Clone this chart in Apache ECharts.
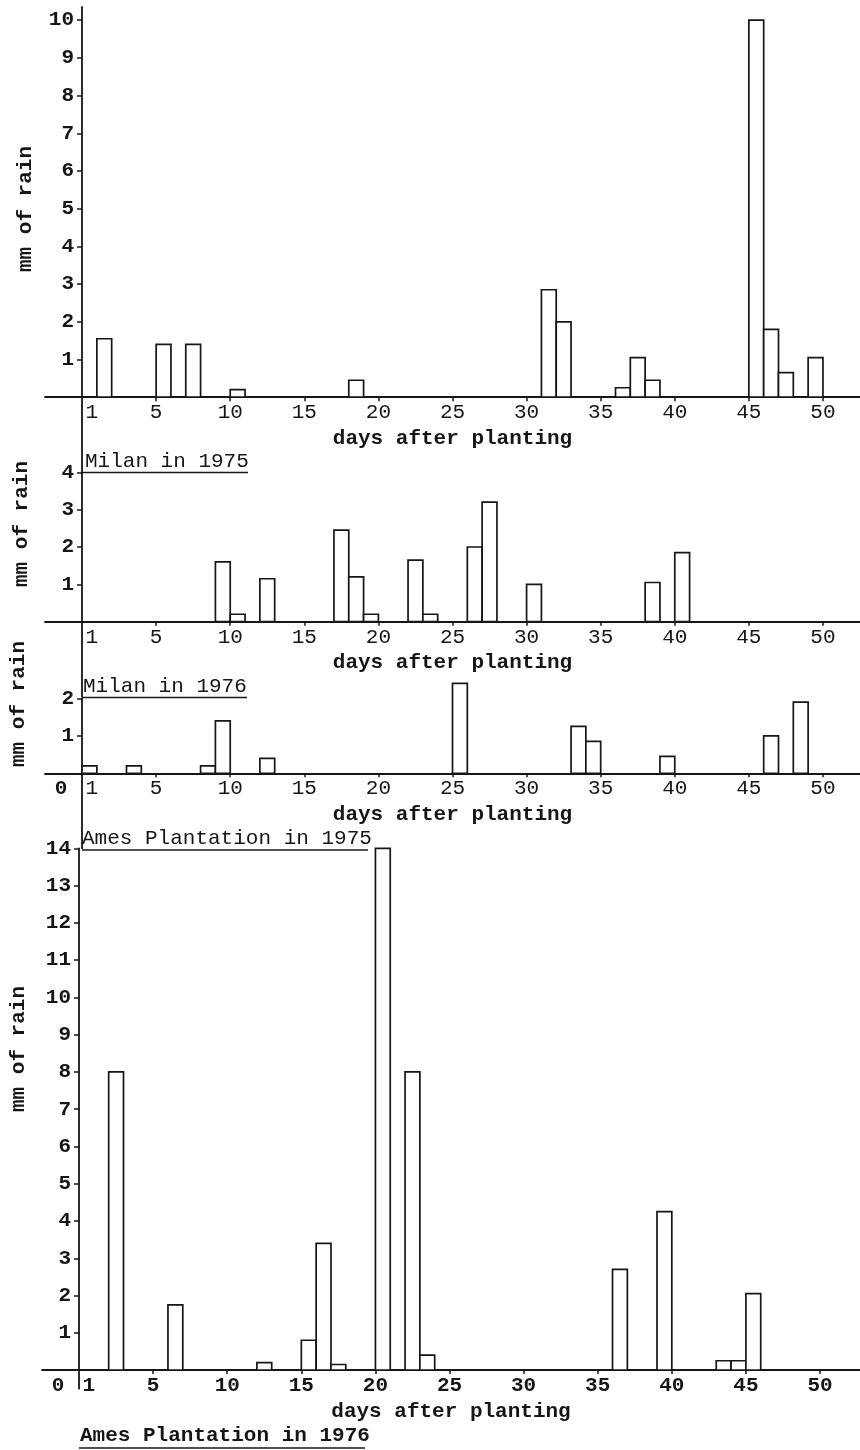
<!DOCTYPE html>
<html><head><meta charset="utf-8">
<script src="https://cdn.jsdelivr.net/npm/echarts@6/dist/echarts.min.js"></script>
<style>html,body{margin:0;padding:0;background:#fff}#c{width:860px;height:1450px}</style>
</head><body><div id="c"></div>
<script>
// Daily rainfall (mm). Each bar covers the interval [day, day+1] on the "days after planting" axis.
const milan1975Days = [1, 5, 7, 10, 18, 31, 32, 36, 37, 38, 45, 46, 47, 49];
const milan1975Rain = [1.55, 1.4, 1.4, 0.2, 0.45, 2.85, 2.0, 0.25, 1.05, 0.45, 10.0, 1.8, 0.65, 1.05];
const milan1976Days = [9, 10, 12, 17, 18, 19, 22, 23, 26, 27, 30, 38, 40];
const milan1976Rain = [1.6, 0.2, 1.15, 2.45, 1.2, 0.2, 1.65, 0.2, 2.0, 3.2, 1.0, 1.05, 1.85];
const ames1975Days = [0, 3, 8, 9, 12, 25, 33, 34, 39, 46, 48];
const ames1975Rain = [0.2, 0.2, 0.2, 1.4, 0.4, 2.4, 1.25, 0.85, 0.45, 1.0, 1.9];
const ames1976Days = [2, 6, 12, 15, 16, 17, 20, 22, 23, 36, 39, 43, 44, 45];
const ames1976Rain = [8, 1.75, 0.2, 0.8, 3.4, 0.15, 14, 8, 0.4, 2.7, 4.25, 0.25, 0.25, 2.05];

const xTickLabels = [1, 5, 10, 15, 20, 25, 30, 35, 40, 45, 50];
const xTickLabelsWithZero = [0, 1, 5, 10, 15, 20, 25, 30, 35, 40, 45, 50];
const xTickMarks = [5, 10, 15, 20, 25, 30, 35, 40, 45, 50];
const yTicksMilan1975 = [1, 2, 3, 4, 5, 6, 7, 8, 9, 10];
const yTicksMilan1976 = [1, 2, 3, 4];
const yTicksAmes1975 = [1, 2];
const yTicksAmes1976 = [1, 2, 3, 4, 5, 6, 7, 8, 9, 10, 11, 12, 13, 14];
const captions = ['Milan in 1975', 'Milan in 1976', 'Ames Plantation in 1975', 'Ames Plantation in 1976'];
const xName = 'days after planting';
const yName = 'mm of rain';

const FONT = '"Liberation Mono", "DejaVu Sans Mono", monospace';
const INK = '#161616';
const X_MIN = -2.5;

const panels = [
  { days: milan1975Days, rain: milan1975Rain, yTicks: yTicksMilan1975, xLabels: xTickLabels,
    layout: { top: 7, height: 465.6, left: 45, width: 815, xMax: 52.5, yMin: -2, yMax: 10.35, boldX: false,
              nameX: 26, nameY: 209, capX: 85, capY: 461, lineX1: 82, lineX2: 248, lineY: 472.5 } },
  { days: milan1976Days, rain: milan1976Rain, yTicks: yTicksMilan1976, xLabels: xTickLabels,
    layout: { top: 472.3, height: 224.1, left: 45, width: 815, xMax: 52.5, yMin: -2, yMax: 4, boldX: false,
              nameX: 22, nameY: 524, capX: 83, capY: 686, lineX1: 82, lineX2: 247, lineY: 697.5 } },
  { days: ames1975Days, rain: ames1975Rain, yTicks: yTicksAmes1975, xLabels: xTickLabelsWithZero,
    layout: { top: 698.3, height: 150, left: 45, width: 815, xMax: 52.5, yMin: -2, yMax: 2, boldX: false,
              nameX: 19, nameY: 704, capX: 82, capY: 838, lineX1: 82, lineX2: 368, lineY: 850 } },
  { days: ames1976Days, rain: ames1976Rain, yTicks: yTicksAmes1976, xLabels: xTickLabelsWithZero,
    layout: { top: 848.4, height: 540.3, left: 42, width: 818, xMax: 52.7, yMin: -0.5, yMax: 14, boldX: true,
              nameX: 19, nameY: 1049, capX: 80, capY: 1436, lineX1: 79, lineX2: 365, lineY: 1448 } }
];

function renderBar(params, api) {
  const d = api.value(0), v = api.value(1);
  const p0 = api.coord([d, 0]);
  const p1 = api.coord([d + 1, v]);
  return {
    type: 'rect',
    shape: { x: p0[0], y: p1[1], width: p1[0] - p0[0], height: p0[1] - p1[1] },
    style: { fill: '#fff', stroke: INK, lineWidth: 1.7 }
  };
}

const grid = [], xAxis = [], yAxis = [], series = [], graphic = [];
panels.forEach((p, i) => {
  const L = p.layout;
  // distance from grid bottom up to the zero line, and from grid left to day 0
  const xOff = -L.height * (0 - L.yMin) / (L.yMax - L.yMin);
  const yOff = -L.width * (0 - X_MIN) / (L.xMax - X_MIN);
  const wt = L.boldX ? 'bold' : 'normal';
  grid.push({ left: L.left, top: L.top, width: L.width, height: L.height, containLabel: false });
  xAxis.push({
    type: 'value', gridIndex: i, min: X_MIN, max: L.xMax, position: 'bottom', offset: xOff,
    name: xName, nameLocation: 'middle', nameGap: 31,
    nameTextStyle: { fontFamily: FONT, fontSize: 21, fontWeight: 'bold', color: INK },
    axisLine: { onZero: false, lineStyle: { color: INK, width: 1.8 } },
    axisTick: { show: true, customValues: xTickMarks, length: 4, lineStyle: { color: INK, width: 1.5 } },
    axisLabel: {
      customValues: p.xLabels, margin: 5, color: INK, fontFamily: FONT, fontSize: 21, fontWeight: wt,
      formatter: v => v === 0 ? '{z|0}' : (v === 1 ? '{o|1}' : String(v)),
      rich: {
        z: { fontFamily: FONT, fontSize: 21, fontWeight: 'bold', color: INK, padding: [0, 42, 0, 0] },
        o: { fontFamily: FONT, fontSize: 21, fontWeight: wt, color: INK, padding: [0, 10, 0, 0] }
      }
    },
    splitLine: { show: false }
  });
  yAxis.push({
    type: 'value', gridIndex: i, min: L.yMin, max: L.yMax, position: 'left', offset: yOff,
    axisLine: { onZero: false, lineStyle: { color: INK, width: 1.8 } },
    axisTick: { show: true, customValues: p.yTicks, length: 5, lineStyle: { color: INK, width: 1.5 } },
    axisLabel: { customValues: p.yTicks, margin: 8, color: INK, fontFamily: FONT, fontSize: 21, fontWeight: 'bold' },
    splitLine: { show: false }
  });
  series.push({
    type: 'custom', xAxisIndex: i, yAxisIndex: i, renderItem: renderBar,
    encode: { x: 0, y: 1 }, clip: false,
    data: p.days.map((d, k) => [d, p.rain[k]])
  });
  graphic.push({
    type: 'text', x: L.nameX, y: L.nameY, rotation: Math.PI / 2,
    style: { text: yName, fontFamily: FONT, fontSize: 21, fontWeight: 'bold', fill: INK,
             align: 'center', verticalAlign: 'middle' }
  });
  graphic.push({
    type: 'text', x: L.capX, y: L.capY,
    style: { text: captions[i], fontFamily: FONT, fontSize: 21, fontWeight: i === 3 ? 'bold' : 'normal', fill: INK,
             align: 'left', verticalAlign: 'middle' }
  });
  graphic.push({
    type: 'line', shape: { x1: L.lineX1, y1: L.lineY, x2: L.lineX2, y2: L.lineY },
    style: { stroke: INK, lineWidth: 1.6 }
  });
});

const chart = echarts.init(document.getElementById('c'), null, { renderer: 'canvas' });
chart.setOption({
  backgroundColor: '#fff',
  animation: false,
  grid, xAxis, yAxis, series, graphic
});
</script></body></html>
